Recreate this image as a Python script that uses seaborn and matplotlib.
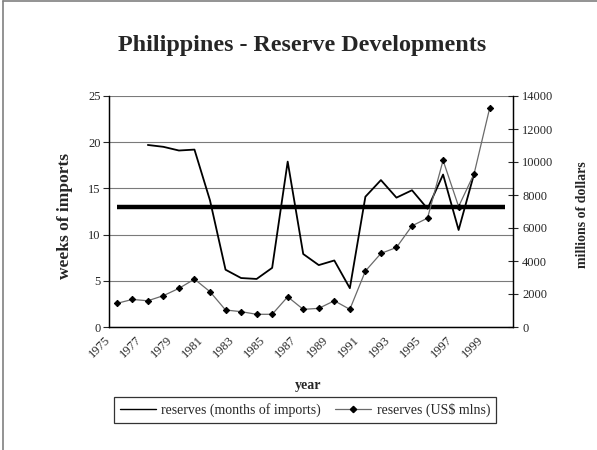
import numpy as np
import pandas as pd
import matplotlib
matplotlib.use("Agg")
import matplotlib.pyplot as plt
import matplotlib.transforms as mtransforms
from matplotlib.lines import Line2D
import seaborn as sns

# data
years = list(range(1975, 2001))
weeks_of_imports = [np.nan, np.nan, 19.7, 19.5, 19.1, 19.2, 13.7, 6.2, 5.3, 5.2,
                    6.4, 17.9, 7.9, 6.7, 7.2, 4.2, 14.1, 15.9, 14.0, 14.8,
                    12.8, 16.5, 10.5, 16.6, np.nan, np.nan]
reserves_usd = [1430, 1670, 1590, 1900, 2340, 2900, 2140, 1030, 930, 770,
                770, 1830, 1070, 1130, 1590, 1070, 3390, 4460, 4820, 6130,
                6600, 10100, 7300, 9300, 13270, np.nan]
benchmark_weeks = 13
year_labels = [str(y) for y in years[::2]]

sns.set_style("white")
plt.rcParams['font.family'] = ['Liberation Serif', 'DejaVu Serif']

df = pd.DataFrame({"idx": np.arange(len(years)), "year": years,
                   "weeks": weeks_of_imports, "usd": reserves_usd})

fig = plt.figure(figsize=(5.97, 4.5), dpi=100)
ax = fig.add_axes([109/597, 1-327/450, (513-109)/597, (327-96)/450])
ax2 = ax.twinx()

# benchmark line across all categories
ax.plot([df["idx"].iloc[0], df["idx"].iloc[-1]], [benchmark_weeks, benchmark_weeks],
        color="black", lw=3.2, solid_capstyle="butt", zorder=3)

sns.lineplot(data=df.dropna(subset=["weeks"]), x="idx", y="weeks", ax=ax,
             color="black", lw=1.3, zorder=4)
sns.lineplot(data=df.dropna(subset=["usd"]), x="idx", y="usd", ax=ax2,
             color="#6a6a6a", lw=0.9, marker="D", markersize=3.2,
             markerfacecolor="black", markeredgecolor="black", zorder=5)

ax.set_xlim(-0.5, len(years) - 0.5)
ax.set_ylim(0, 25)
ax2.set_ylim(0, 14000)
ax.set_yticks(range(0, 26, 5))
ax2.set_yticks(range(0, 14001, 2000))
ax.yaxis.grid(True, color="#7a7a7a", lw=0.8)
ax.set_axisbelow(True)

ax.set_xticks(np.arange(0, len(years), 2))
ax.set_xticklabels(year_labels, rotation=45, ha="right", va="top",
                   rotation_mode="anchor", fontsize=9)
ax.set_xticks(np.arange(-0.5, len(years), 1), minor=True)
ax.tick_params(axis="x", which="major", length=0, pad=5)
ax.tick_params(axis="x", which="minor", length=3.5, direction="out", width=0.8)
shift = mtransforms.ScaledTranslation(-9/72, 0, fig.dpi_scale_trans)
for lab in ax.get_xticklabels():
    lab.set_transform(lab.get_transform() + shift)

ax.tick_params(axis="y", length=4, direction="out", width=0.8, labelsize=9, pad=2)
ax2.tick_params(axis="y", length=7, direction="inout", width=0.8, labelsize=9, pad=3)

for a in (ax, ax2):
    a.set_xlabel("")
    a.set_ylabel("")
    a.spines["top"].set_visible(False)
    for s in ("left", "bottom", "right"):
        a.spines[s].set_color("black")
        a.spines[s].set_linewidth(0.9)

fig.text(302/597, 1-45/450, "Philippines - Reserve Developments",
         ha="center", va="center", fontsize=17.4, fontweight="bold")
fig.text(65/597, 1-216/450, "weeks of imports", rotation=90,
         ha="center", va="center", fontsize=12.5, fontweight="bold")
fig.text(582/597, 1-215/450, "millions of dollars", rotation=90,
         ha="center", va="center", fontsize=10, fontweight="bold")
fig.text(308/597, 1-385/450, "year", ha="center", va="center",
         fontsize=10, fontweight="bold")

handles = [Line2D([], [], color="black", lw=1.0),
           Line2D([], [], color="#6a6a6a", lw=0.9, marker="D", markersize=3.2,
                  markerfacecolor="black", markeredgecolor="black")]
leg = fig.legend(handles, ["reserves (months of imports)", "reserves (US$ mlns)"],
                 loc="center", bbox_to_anchor=(305/597, 1-410/450), ncol=2,
                 fontsize=10, frameon=True, fancybox=False, handlelength=2.6,
                 handletextpad=0.4, columnspacing=1.0, borderpad=0.4)
leg.get_frame().set_edgecolor("black")
leg.get_frame().set_linewidth(0.9)

# outer chart border (left and top)
fig.add_artist(Line2D([3/597, 3/597], [0, 1-1/450], color="#808080", lw=1.2))
fig.add_artist(Line2D([3/597, 1], [1-1/450, 1-1/450], color="#808080", lw=1.2))

fig.savefig("out.png", dpi=100)
